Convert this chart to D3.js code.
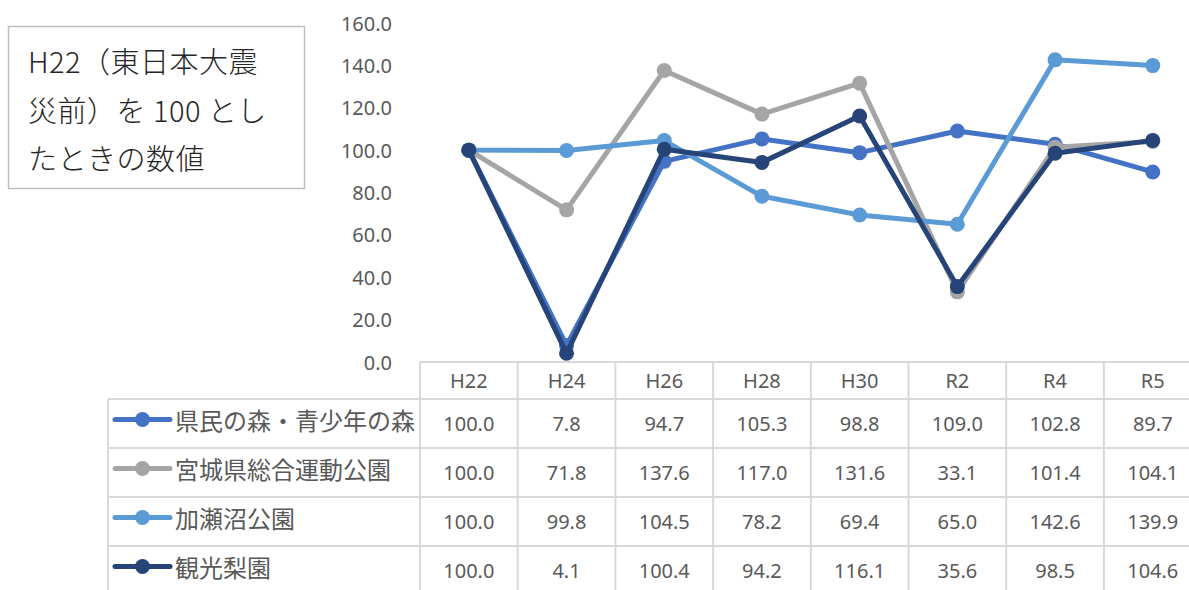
<!DOCTYPE html>
<html lang="ja">
<head>
<meta charset="UTF-8">
<title>H22を100としたときの数値</title>
<script src="https://d3js.org/d3.v7.min.js"></script>
<style>
    body { margin: 0; background: #fff; }
    svg { display: block; }
    .axis text, .cell { font-family: "Noto Sans", "Noto Sans CJK JP", sans-serif; font-size: 20px; fill: #595959; }
    .legendLabel { font-family: "Noto Sans CJK JP", sans-serif; font-size: 24px; fill: #595959; }
    .title { font-family: "Noto Sans CJK JP", sans-serif; font-size: 29px; fill: #262626; font-weight: 300; letter-spacing: 0.5px; }
    .grid { stroke: #d9d9d9; stroke-width: 2px; }
</style>
</head>
<body>
<div id="container"></div>
<script>
    const categories = ["H22", "H24", "H26", "H28", "H30", "R2", "R4", "R5"];
    const seriesNames = ["県民の森・青少年の森", "宮城県総合運動公園", "加瀬沼公園", "観光梨園"];
    const forest = [100.0, 7.8, 94.7, 105.3, 98.8, 109.0, 102.8, 89.7];
    const sportsPark = [100.0, 71.8, 137.6, 117.0, 131.6, 33.1, 101.4, 104.1];
    const kasenuma = [100.0, 99.8, 104.5, 78.2, 69.4, 65.0, 142.6, 139.9];
    const pearOrchard = [100.0, 4.1, 100.4, 94.2, 116.1, 35.6, 98.5, 104.6];
    const yTicks = [0, 20, 40, 60, 80, 100, 120, 140, 160];
    const titleLines = ["H22（東日本大震", "災前）を 100 とし", "たときの数値"];

    const colors = ["#4472C4", "#A5A5A5", "#5B9BD5", "#264478"];
    const seriesValues = [forest, sportsPark, kasenuma, pearOrchard];
    const series = seriesNames.map((name, i) => ({name: name, values: seriesValues[i], color: colors[i]}));

    const width = 1189, height = 590;
    const svg = d3.select("#container").append("svg")
        .attr("width", width).attr("height", height);

    // scales
    const colW = 97.7;
    const xScale = d3.scaleBand()
        .domain(categories)
        .range([420, 420 + colW * categories.length]);
    const yScale = d3.scaleLinear()
        .domain([0, 160])
        .range([362, 23]);
    const rowScale = d3.scaleBand()
        .domain(seriesNames)
        .range([399, 399 + 49 * seriesNames.length]);
    const tableLeft = 108, headerTop = 362;

    // y axis
    const yAxis = d3.axisLeft(yScale).tickValues(yTicks).tickFormat(d3.format(".1f")).tickSize(0).tickPadding(0);
    const gy = svg.append("g").attr("class", "axis").attr("transform", "translate(392,0)").call(yAxis);
    gy.select(".domain").remove();
    gy.selectAll("text").attr("dy", "0.35em");

    // table grid
    const grid = svg.append("g");
    const right = xScale.range()[1];
    grid.append("line").attr("class", "grid").attr("x1", xScale.range()[0]).attr("x2", right).attr("y1", headerTop).attr("y2", headerTop);
    seriesNames.forEach(n => {
        grid.append("line").attr("class", "grid").attr("x1", tableLeft).attr("x2", right)
            .attr("y1", rowScale(n)).attr("y2", rowScale(n));
    });
    grid.append("line").attr("class", "grid").attr("x1", tableLeft).attr("x2", right)
        .attr("y1", rowScale.range()[1]).attr("y2", rowScale.range()[1]);
    grid.append("line").attr("class", "grid").attr("x1", tableLeft).attr("x2", tableLeft)
        .attr("y1", rowScale.range()[0]).attr("y2", rowScale.range()[1]);
    categories.concat(["end"]).forEach((c, i) => {
        const x = xScale.range()[0] + i * xScale.bandwidth();
        grid.append("line").attr("class", "grid").attr("x1", x).attr("x2", x)
            .attr("y1", headerTop).attr("y2", rowScale.range()[1]);
    });

    // header labels
    svg.append("g").selectAll("text").data(categories).enter().append("text")
        .attr("class", "cell")
        .attr("x", d => xScale(d) + xScale.bandwidth() / 2)
        .attr("y", (headerTop + rowScale.range()[0]) / 2)
        .attr("dy", "0.35em")
        .attr("text-anchor", "middle")
        .text(d => d);

    // value cells + legend
    series.forEach(s => {
        const cy = rowScale(s.name) + rowScale.bandwidth() / 2;
        const g = svg.append("g");
        g.selectAll("text").data(s.values).enter().append("text")
            .attr("class", "cell")
            .attr("x", (d, i) => xScale(categories[i]) + xScale.bandwidth() / 2)
            .attr("y", cy)
            .attr("dy", "0.35em")
            .attr("text-anchor", "middle")
            .text(d => d3.format(".1f")(d));
        g.append("line").attr("x1", 115).attr("x2", 170).attr("y1", cy - 4).attr("y2", cy - 4)
            .attr("stroke", s.color).attr("stroke-width", 5).attr("stroke-linecap", "round");
        g.append("circle").attr("cx", 142.5).attr("cy", cy - 4).attr("r", 7.5).attr("fill", s.color);
        g.append("text").attr("class", "legendLabel")
            .attr("x", 175).attr("y", cy - 2).attr("dy", "0.35em")
            .text(s.name);
    });

    // lines
    const line = d3.line()
        .x((d, i) => xScale(categories[i]) + xScale.bandwidth() / 2)
        .y(d => yScale(d));
    series.forEach(s => {
        const g = svg.append("g");
        g.append("path").attr("d", line(s.values))
            .attr("fill", "none").attr("stroke", s.color).attr("stroke-width", 5)
            .attr("stroke-linejoin", "round").attr("stroke-linecap", "round");
        g.selectAll("circle").data(s.values).enter().append("circle")
            .attr("cx", (d, i) => xScale(categories[i]) + xScale.bandwidth() / 2)
            .attr("cy", d => yScale(d))
            .attr("r", 7.5)
            .attr("fill", s.color);
    });

    // title box
    svg.append("rect").attr("x", 8.5).attr("y", 26.5).attr("width", 296).attr("height", 162)
        .attr("fill", "#fff").attr("stroke", "#bfbfbf").attr("stroke-width", 1.5);
    svg.append("g").selectAll("text").data(titleLines).enter().append("text")
        .attr("class", "title")
        .attr("x", 28)
        .attr("y", (d, i) => 63 + i * 48.5)
        .attr("dy", "0.36em")
        .text(d => d);
</script>
</body>
</html>
